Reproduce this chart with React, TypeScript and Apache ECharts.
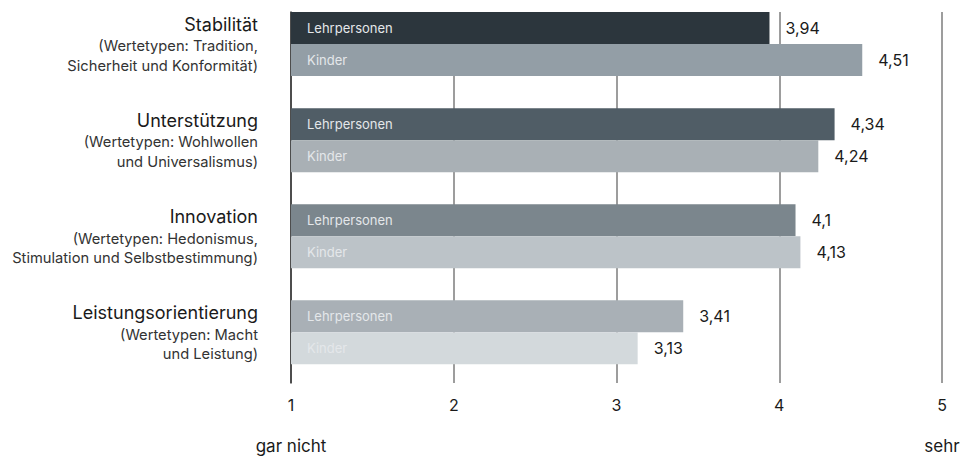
import React, { useEffect, useRef } from "react";
import * as echarts from "echarts";

const categories = ["Stabilität", "Unterstützung", "Innovation", "Leistungsorientierung"];
const subLine1 = ["(Wertetypen: Tradition,", "(Wertetypen: Wohlwollen", "(Wertetypen: Hedonismus,", "(Wertetypen: Macht"];
const subLine2 = ["Sicherheit und Konformität)", "und Universalismus)", "Stimulation und Selbstbestimmung)", "und Leistung)"];
const seriesNames = ["Lehrpersonen", "Kinder"];
const lehrValues = [3.94, 4.34, 4.1, 3.41];
const kinderValues = [4.51, 4.24, 4.13, 3.13];
const lehrColors = ["#2c363d", "#505d66", "#7b868d", "#a9b0b6"];
const kinderColors = ["#939ea6", "#a9b0b5", "#bcc3c8", "#d3d9dc"];
const xTicks = [1, 2, 3, 4, 5];
const scaleEnds: Record<number, string> = { 1: "gar nicht", 5: "sehr" };

const FONT = "Inter";
const SHIFT = 20; // chart canvas extends above the page so the bar grid can start above it
const fmt = (v: number) => String(v).replace(".", ",");

export default function App() {
  const ref = useRef<HTMLDivElement>(null);
  useEffect(() => {
    if (!ref.current) return;
    const chart = echarts.init(ref.current, null, { renderer: "svg" });
    const barGrid = { left: 291, right: 23, top: -4 + SHIFT, bottom: 76.6 };
    const hiddenX = (idx: number) => ({
      type: "value", gridIndex: idx, min: 1, max: 5, interval: 1, startValue: 1, show: false,
    });
    const catY = (idx: number, showLabels: boolean) => ({
      type: "category", gridIndex: idx, inverse: true, data: categories,
      axisLine: { show: false }, axisTick: { show: false }, splitLine: { show: false },
      axisLabel: showLabels
        ? {
            show: true, margin: 33, align: "right",
            formatter: (_v: string, i: number) =>
              `{t|${categories[i]}}\n{s|${subLine1[i]}}\n{s|${subLine2[i]}}`,
            rich: {
              t: { fontFamily: FONT, fontSize: 18, color: "#1a1a1a", lineHeight: 24, align: "right" },
              s: { fontFamily: FONT, fontSize: 14.7, color: "#333333", lineHeight: 19.5, align: "right" },
            },
          }
        : { show: false },
    });
    const barSeries = (name: string, values: number[], colors: string[]) => ({
      name, type: "bar", xAxisIndex: 0, yAxisIndex: 0, barWidth: 32, barGap: "0%",
      silent: true,
      data: values.map((v, i) => ({ value: v, itemStyle: { color: colors[i] } })),
      label: {
        show: true, position: "insideLeft", distance: 16, formatter: name,
        color: "#e4e7ea", fontFamily: FONT, fontSize: 13,
      },
    });
    const ghostSeries = (name: string, values: number[]) => ({
      name: name + "-wert", type: "bar", xAxisIndex: 2, yAxisIndex: 2, barWidth: 32, barGap: "0%",
      silent: true,
      data: values,
      itemStyle: { color: "rgba(0,0,0,0)" },
      label: {
        show: true, position: "right", distance: 16,
        formatter: (p: any) => fmt(p.value),
        color: "#1a1a1a", fontFamily: FONT, fontSize: 16,
      },
    });
    chart.setOption({
      animation: false,
      textStyle: { fontFamily: FONT },
      grid: [
        { ...barGrid },
        { left: 291, right: 23, top: 12 + SHIFT, bottom: 74 },
        { ...barGrid },
      ],
      xAxis: [
        hiddenX(0),
        {
          type: "value", gridIndex: 1, min: 1, max: 5, interval: 1,
          axisLine: { show: false }, axisTick: { show: false },
          splitLine: { show: true, lineStyle: { color: "#7d7d7d", width: 1.5 } },
          axisLabel: {
            margin: 12,
            formatter: (v: number) =>
              scaleEnds[v] !== undefined ? `{n|${v}}\n{e|${scaleEnds[v]}}` : `{n|${v}}\n{e| }`,
            rich: {
              n: { fontFamily: FONT, fontSize: 16, color: "#1a1a1a", lineHeight: 20 },
              e: { fontFamily: FONT, fontSize: 17, color: "#1a1a1a", lineHeight: 62 },
            },
          },
          data: xTicks,
        },
        hiddenX(2),
      ],
      yAxis: [
        catY(0, true),
        {
          type: "value", gridIndex: 1, min: 0, max: 1,
          axisLine: { show: true, lineStyle: { color: "#333333", width: 1.5 } },
          axisTick: { show: false }, axisLabel: { show: false }, splitLine: { show: false },
        },
        catY(2, false),
      ],
      series: [
        barSeries(seriesNames[0], lehrValues, lehrColors),
        barSeries(seriesNames[1], kinderValues, kinderColors),
        ghostSeries(seriesNames[0], lehrValues),
        ghostSeries(seriesNames[1], kinderValues),
      ],
    });
    return () => chart.dispose();
  }, []);
  return (
    <div
      ref={ref}
      style={{ position: "fixed", left: 0, top: -SHIFT, width: 965, height: 457 + SHIFT, background: "#ffffff" }}
    />
  );
}
